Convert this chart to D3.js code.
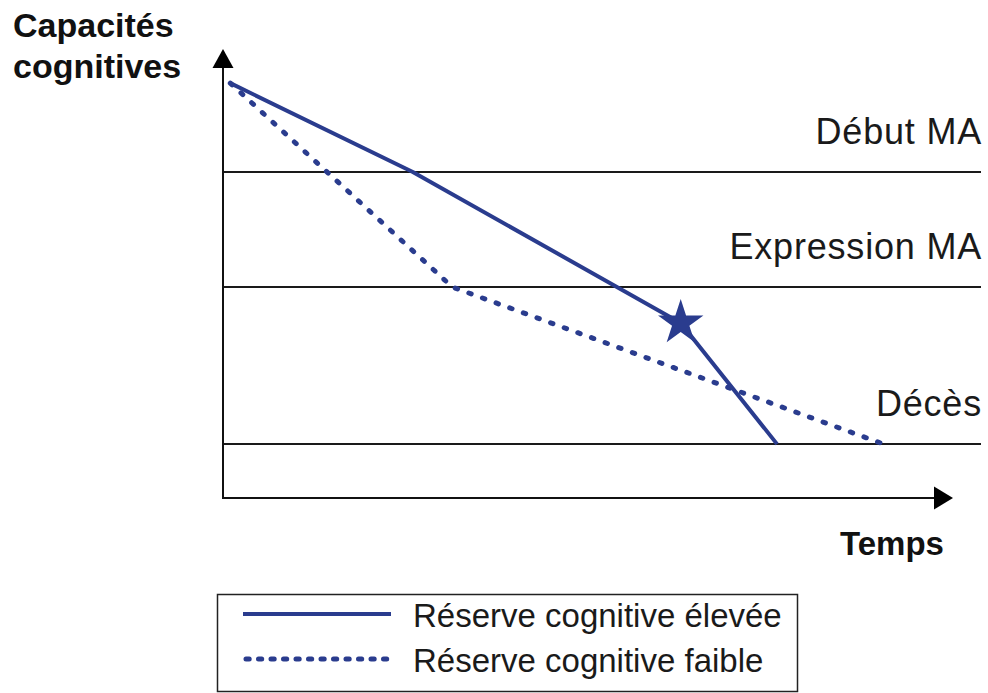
<!DOCTYPE html>
<html>
<head>
<meta charset="utf-8">
<script src="https://cdn.jsdelivr.net/npm/d3@7"></script>
<style>
  html, body { margin: 0; padding: 0; background: #fff; }
  svg { display: block; font-family: "Liberation Sans", Arial, sans-serif; }
</style>
</head>
<body>
<svg id="chart" width="988" height="693"></svg>
<script>
// ---- Data ----
const levelNames  = ["Début MA", "Expression MA", "Décès"];
const levelValues = [72.6, 47, 12];

const highReserveX = [1, 26, 62.7, 75.9];
const highReserveY = [92.4, 72.6, 39, 12];

const lowReserveX = [1, 31.4, 90.5];
const lowReserveY = [92.4, 47, 12];

const starPoint = [62.7, 39];

const legendLabels = ["Réserve cognitive élevée", "Réserve cognitive faible"];
const yTitle = ["Capacités", "cognitives"];
const xTitle = "Temps";

// ---- Layout ----
const svg = d3.select("#chart");
const blue = "#2a3c8e";
const x = d3.scaleLinear().domain([0, 100]).range([223, 953]);
const y = d3.scaleLinear().domain([0, 100]).range([498, 49]);
const levelEnd = 981;

// horizontal level lines
const lv = svg.append("g");
levelValues.forEach((v, i) => {
  lv.append("line")
    .attr("x1", x(0)).attr("x2", levelEnd)
    .attr("y1", y(v)).attr("y2", y(v))
    .attr("stroke", "#1a1a1a").attr("stroke-width", 2);
  lv.append("text")
    .attr("x", levelEnd + 1).attr("y", y(v) - 28)
    .attr("text-anchor", "end")
    .attr("font-size", 36)
    .attr("letter-spacing", 0.8)
    .attr("fill", "#1a1a1a")
    .text(levelNames[i]);
});

// axes
const ax = svg.append("g");
ax.append("line").attr("x1", x(0)).attr("x2", x(0)).attr("y1", y(0) + 1).attr("y2", y(100) + 12)
  .attr("stroke", "#111").attr("stroke-width", 2);
ax.append("line").attr("x1", x(0) - 1).attr("x2", x(100) - 12).attr("y1", y(0)).attr("y2", y(0))
  .attr("stroke", "#111").attr("stroke-width", 2);
ax.append("path")
  .attr("d", `M${x(0)},${y(100)} L${x(0) + 10.5},${y(100) + 19} L${x(0) - 10.5},${y(100) + 19} Z`)
  .attr("fill", "#000");
ax.append("path")
  .attr("d", `M${x(100)},${y(0)} L${x(100) - 19},${y(0) - 11.5} L${x(100) - 19},${y(0) + 11.5} Z`)
  .attr("fill", "#000");

// axis titles
const yt = svg.append("text").attr("font-weight", "bold").attr("font-size", 34).attr("fill", "#111");
yTitle.forEach((t, i) => {
  yt.append("tspan").attr("x", 13).attr("y", 37 + i * 41).text(t);
});
svg.append("text").attr("x", 840).attr("y", 555)
  .attr("font-weight", "bold").attr("font-size", 33).attr("fill", "#111")
  .text(xTitle);

// series
const line = d3.line().x(d => x(d[0])).y(d => y(d[1]));
const highData = highReserveX.map((v, i) => [v, highReserveY[i]]);
const lowData = lowReserveX.map((v, i) => [v, lowReserveY[i]]);

svg.append("path").datum(lowData)
  .attr("d", line)
  .attr("fill", "none").attr("stroke", blue)
  .attr("stroke-width", 5).attr("stroke-linecap", "round")
  .attr("stroke-dasharray", "2.5,12");

svg.append("path").datum(highData)
  .attr("d", line)
  .attr("fill", "none").attr("stroke", blue)
  .attr("stroke-width", 4).attr("stroke-linejoin", "round");

// star
svg.append("path")
  .attr("d", d3.symbol(d3.symbolStar, 640)())
  .attr("transform", `translate(${x(starPoint[0])},${y(starPoint[1])})`)
  .attr("fill", blue);

// legend
const lg = svg.append("g");
lg.append("rect").attr("x", 217.5).attr("y", 594.5).attr("width", 580).attr("height", 97)
  .attr("fill", "none").attr("stroke", "#222").attr("stroke-width", 1.5);
const legendStyles = [
  { dash: null, width: 4, cap: "butt" },
  { dash: "3.2,9.3", width: 5, cap: "round" }
];
legendLabels.forEach((t, i) => {
  const ly = 614 + i * 45;
  const st = legendStyles[i];
  const l = lg.append("line")
    .attr("x1", i ? 246 : 243).attr("x2", 391)
    .attr("y1", ly).attr("y2", ly)
    .attr("stroke", blue).attr("stroke-width", st.width)
    .attr("stroke-linecap", st.cap);
  if (st.dash) l.attr("stroke-dasharray", st.dash);
  lg.append("text").attr("x", 413).attr("y", ly + 13)
    .attr("font-size", 33).attr("fill", "#1a1a1a").text(t);
});
</script>
</body>
</html>
